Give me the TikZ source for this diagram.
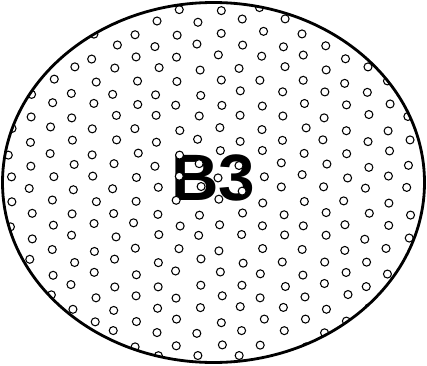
\documentclass[tikz,border=0pt]{standalone}
\usepackage{fontspec}
\setmainfont{Liberation Sans}
\usetikzlibrary{positioning}

\tikzset{
  rim/.style={line width=2.4pt, black},
  pore/.style={line width=0.9pt, draw=black, fill=white},
}

\begin{document}
\begin{tikzpicture}[x=0.03cm, y=-0.03cm]
    \useasboundingbox (0,0) rectangle (427,365);

    % Label
    \node[font=\fontsize{56}{60}\selectfont\bfseries, inner sep=0pt]
          (label) at (213.5,178) {B3};

    % Pores, a jittered lattice clipped to the outline
    \pgfmathsetseed{31}
    \begin{scope}
        \clip (213.5,182.5) ellipse [x radius=211, y radius=180];
        \foreach \col in {0,...,20} {
            \foreach \row in {-1,...,15} {
                \pgfmathsetmacro{\px}{10 + \col*21 + 2.5*rand}
                \pgfmathsetmacro{\py}{9 + \row*24 + mod(\col,2)*12 + 2.5*rand}
                \draw[pore] (\px,\py) circle [radius=4];
            }
        }
    \end{scope}

    % Outline
    \draw[rim] (213.5,182.5) ellipse [x radius=211, y radius=180];
\end{tikzpicture}
\end{document}
